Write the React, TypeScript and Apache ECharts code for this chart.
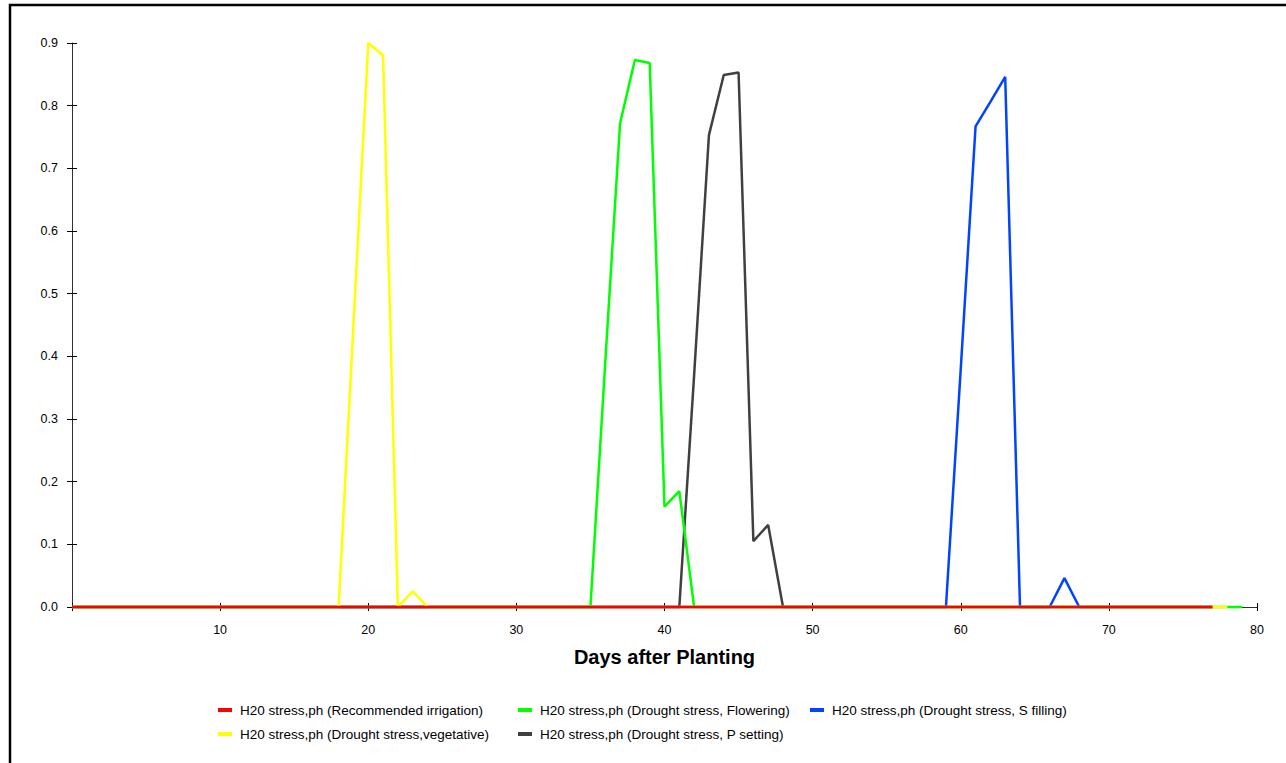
import React, { useEffect, useRef } from "react";
import * as echarts from "echarts";

const xTicks = [0, 10, 20, 30, 40, 50, 60, 70, 80];
const yTicks = [0, 0.1, 0.2, 0.3, 0.4, 0.5, 0.6, 0.7, 0.8, 0.9];

const seriesNames = [
  "H20 stress,ph (Recommended irrigation)",
  "H20 stress,ph (Drought stress,vegetative)",
  "H20 stress,ph (Drought stress, Flowering)",
  "H20 stress,ph (Drought stress, P setting)",
  "H20 stress,ph (Drought stress, S filling)",
];
const seriesColors = ["#ff0000", "#ffff00", "#00ff00", "#404040", "#0044ff"];

// [day, value] points
const recommended: number[][] = [[0, 0], [77, 0]];
const vegetative: number[][] = [
  [0, 0], [18, 0], [19, 0.45], [20, 0.9], [21, 0.88], [22, 0], [23, 0.025], [24, 0], [78, 0],
];
const flowering: number[][] = [
  [0, 0], [35, 0], [36, 0.39], [37, 0.772], [38, 0.873], [39, 0.868], [40, 0.16], [41, 0.185], [42, 0], [79, 0],
];
const pSetting: number[][] = [
  [0, 0], [41, 0], [42, 0.37], [43, 0.753], [44, 0.849], [45, 0.853], [46, 0.105], [47, 0.131], [48, 0], [77, 0],
];
const sFilling: number[][] = [
  [0, 0], [59, 0], [60, 0.38], [61, 0.767], [62, 0.806], [63, 0.846], [64, 0], [66, 0], [67, 0.046], [68, 0], [77, 0],
];
const seriesData = [recommended, vegetative, flowering, pSetting, sFilling];

// legend grid placement (column, row)
const legendCells = [
  [218, 703],
  [218, 727],
  [518, 703],
  [518, 727],
  [810, 703],
];

export default function App() {
  const ref = useRef<HTMLDivElement>(null);
  useEffect(() => {
    if (!ref.current) return;
    const chart = echarts.init(ref.current, undefined, { renderer: "svg" });
    const font = "'Liberation Sans', Arial, sans-serif";
    const xMin = xTicks[0];
    const xMax = xTicks[xTicks.length - 1];
    const yMin = yTicks[0];
    const yMax = yTicks[yTicks.length - 1];
    const zs = [10, 9, 8, 7, 6];
    chart.setOption({
      animation: false,
      backgroundColor: "#ffffff",
      textStyle: { fontFamily: font },
      grid: { left: 72, right: 29, top: 43, bottom: 156, containLabel: false },
      graphic: [
        {
          type: "rect",
          shape: { x: 10, y: 5, width: 1300, height: 800 },
          style: { fill: "none", stroke: "#000", lineWidth: 2.5 },
          silent: true,
        },
      ],
      legend: seriesNames.map((n, i) => ({
        data: [n],
        left: legendCells[i][0],
        top: legendCells[i][1],
        icon: "rect",
        itemWidth: 14,
        itemHeight: 4,
        padding: 0,
        textStyle: { fontSize: 13.5, color: "#000", fontFamily: font, padding: [0, 0, 0, 3] },
        selectedMode: false,
      })),
      xAxis: [
        {
          type: "value",
          min: xMin,
          max: xMax,
          interval: 10,
          name: "Days after Planting",
          nameLocation: "middle",
          nameGap: 40,
          nameTextStyle: { fontSize: 20, fontWeight: "bold", color: "#000", fontFamily: font },
          axisLine: { show: true, onZero: false, lineStyle: { color: "#303030", width: 1 } },
          axisTick: { show: true, length: 4, lineStyle: { color: "#000" } },
          axisLabel: {
            fontSize: 12.5,
            color: "#000",
            margin: 16,
            formatter: (v: number) => (v === 0 ? "" : String(v)),
          },
          splitLine: { show: false },
        },
        {
          type: "value",
          min: xMin,
          max: xMax,
          interval: 10,
          position: "bottom",
          axisLine: { show: false, onZero: false },
          axisTick: { show: true, inside: true, length: 4, lineStyle: { color: "#000" } },
          axisLabel: { show: false },
          splitLine: { show: false },
        },
      ],
      yAxis: [
        {
          type: "value",
          min: yMin,
          max: yMax,
          interval: 0.1,
          axisLine: { show: true, onZero: false, lineStyle: { color: "#303030", width: 1 } },
          axisTick: { show: true, length: 5, lineStyle: { color: "#000" } },
          axisLabel: {
            fontSize: 12.5,
            color: "#000",
            margin: 14,
            formatter: (v: number) => v.toFixed(1),
          },
          splitLine: { show: false },
        },
        {
          type: "value",
          min: yMin,
          max: yMax,
          interval: 0.1,
          position: "left",
          axisLine: { show: false, onZero: false },
          axisTick: { show: true, inside: true, length: 5, lineStyle: { color: "#000" } },
          axisLabel: { show: false },
          splitLine: { show: false },
        },
      ],
      series: seriesNames.map((n, i) => ({
        name: n,
        type: "line",
        data: seriesData[i],
        showSymbol: false,
        symbol: "none",
        z: zs[i],
        color: seriesColors[i],
        lineStyle: { color: seriesColors[i], width: 2.5 },
        clip: false,
      })),
    });
    return () => chart.dispose();
  }, []);
  return (
    <div
      ref={ref}
      style={{ position: "fixed", left: 0, top: 0, width: 1286, height: 763, background: "#fff" }}
    />
  );
}
